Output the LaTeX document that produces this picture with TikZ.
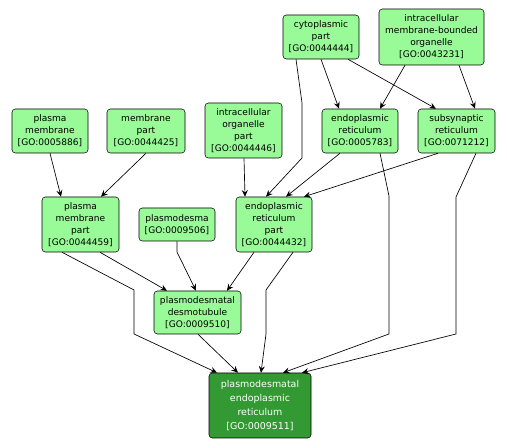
\documentclass[tikz,border=0pt]{standalone}
\usepackage{fontspec}
\usepackage[svgnames]{xcolor}
\usetikzlibrary{arrows.meta}
\newfontfamily\gofont{DejaVu Sans}
\definecolor{termgreen}{HTML}{98FB98}
\definecolor{leafgreen}{HTML}{339933}
\tikzset{
        term/.style={draw=black, fill=termgreen, rounded corners=2.5pt, inner sep=0pt,
            align=center, font=\gofont\fontsize{6.8}{9}\selectfont},
        leaf/.style={term, fill=leafgreen, text=white, font=\gofont\fontsize{7.1}{10.5}\selectfont},
        edge/.style={draw=black, line width=0.5pt, -{Stealth[length=5pt,width=4.5pt,inset=1.8pt]}},
    }
\begin{document}
\begin{tikzpicture}[x = 0.75pt, y = -0.75pt]
                \useasboundingbox (0,0) rectangle (507,448);
                % top rows
                \node[term, minimum width=57pt, minimum height=33pt] (cp) at (321,37) {cytoplasmic\\part\\{[GO:0044444]}};
                \node[term, minimum width=78.75pt, minimum height=42pt] (imbo) at (431.5,37) {intracellular\\membrane-bounded\\organelle\\{[GO:0043231]}};
                \node[term, minimum width=57pt, minimum height=33pt] (pm) at (50,131) {plasma\\membrane\\{[GO:0005886]}};
                \node[term, minimum width=58.5pt, minimum height=33pt] (mp) at (146,131) {membrane\\part\\{[GO:0044425]}};
                \node[term, minimum width=57.75pt, minimum height=41.25pt] (iop) at (243.5,130.5) {intracellular\\organelle\\part\\{[GO:0044446]}};
                \node[term, minimum width=57pt, minimum height=33pt] (er) at (360,131) {endoplasmic\\reticulum\\{[GO:0005783]}};
                \node[term, minimum width=57.75pt, minimum height=33pt] (ssr) at (456.5,131) {subsynaptic\\reticulum\\{[GO:0071212]}};
                \node[term, minimum width=57.75pt, minimum height=41.25pt] (pmp) at (80.5,224.5) {plasma\\membrane\\part\\{[GO:0044459]}};
                \node[term, minimum width=57pt, minimum height=24.75pt] (pd) at (177,224.5) {plasmodesma\\{[GO:0009506]}};
                \node[term, minimum width=57pt, minimum height=41.25pt] (erp) at (274,224.5) {endoplasmic\\reticulum\\part\\{[GO:0044432]}};
                \node[term, minimum width=65.25pt, minimum height=32.25pt] (dt) at (197.5,312.5) {plasmodesmatal\\desmotubule\\{[GO:0009510]}};
                % the term itself
                \node[leaf, minimum width=76.5pt, minimum height=48.75pt] (per) at (260,405.5) {plasmodesmatal\\endoplasmic\\reticulum\\{[GO:0009511]}};
                % straight edges
                \foreach \a/\ax/\b/\bx in {cp/321/er/339, cp/348/ssr/436, imbo/405/er/380, imbo/459/ssr/475,
                    pm/50/pmp/61, mp/146/pmp/101, iop/244/erp/245, er/340/erp/286, ssr/438/erp/304,
                    pmp/100/dt/167, erp/254/dt/227, dt/198/per/238}
                {
                    \draw[edge] (\a.south -| \ax,0) -- (\b.north -| \bx,0);
                }
                % bent edges
                \draw[edge] (cp.south -| 296,0) -- (302,103) -- (302,158) -- (erp.north -| 266,0);
                \draw[edge] (er.south -| 380,0) -- (389,196) -- (389,334) -- (per.north -| 283,0);
                \draw[edge] (ssr.south -| 476,0) -- (456,197) -- (456,334) -- (per.north -| 302,0);
                \draw[edge] (pd.south -| 177,0) -- (177,252) -- (dt.north -| 196,0);
                \draw[edge] (pmp.south -| 62,0) -- (134,290) -- (134,334) -- (per.north -| 217,0);
                \draw[edge] (erp.south -| 293,0) -- (266,290) -- (266,334) -- (per.north -| 261,0);
            \end{tikzpicture}
\end{document}
